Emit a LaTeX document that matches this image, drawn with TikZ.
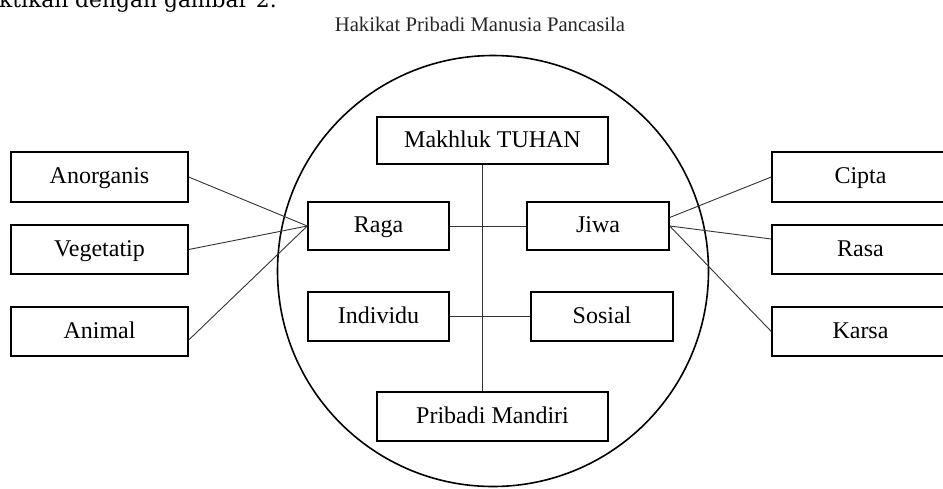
\documentclass[tikz,border=0pt]{standalone}
\usepackage{fontspec}
\setmainfont{Liberation Serif}
\newfontfamily\topfont{DejaVu Serif}
\begin{document}
\begin{tikzpicture}[x=1pt,y=-1pt,
  box/.style={draw=black, line width=1.4pt, inner sep=0pt, minimum height=48pt,
    text height=16.8pt, text depth=3.2pt, font=\fontsize{24}{28}\selectfont},
  sidebox/.style={box, minimum width=177pt, minimum height=49pt},
  midbox/.style={box, minimum width=141pt},
  widebox/.style={box, minimum width=231pt},
  conn/.style={draw=black!80, line width=0.9pt},
  ring/.style={draw=black, line width=1.6pt}
]
\path[use as bounding box, clip] (0,0) rectangle (943,488);
\fill[white] (0,0) rectangle (943,488);

% cut-off text line at the top
\node[anchor=base east, inner sep=0pt, font=\topfont\fontsize{21.8}{26}\selectfont] (toptext) at (277,7) {ktikan dengan gambar 2.};

% title
\node[anchor=base, inner sep=0pt, text=black!85, font=\fontsize{20.7}{24}\selectfont] (title) at (480,31) {Hakikat Pribadi Manusia Pancasila};

% circle
\node[ring, circle, minimum size=431pt, inner sep=0pt] (ring) at (493,271) {};

% left boxes
\node[sidebox, minimum height=50pt] (anorganis) at (99.5,177) {Anorganis};
\node[sidebox] (vegetatip) at (99.5,249.5) {Vegetatip};
\node[sidebox] (animal) at (99.5,331.5) {Animal};

% right boxes
\node[sidebox, minimum height=50pt] (cipta) at (860.5,177) {Cipta};
\node[sidebox] (rasa) at (860.5,249.5) {Rasa};
\node[sidebox] (karsa) at (860.5,331.5) {Karsa};

% inner boxes
\node[widebox, minimum height=47pt] (makhluk) at (492.5,140.5) {Makhluk TUHAN};
\node[midbox] (raga) at (378.5,226) {Raga};
\node[midbox, minimum width=142pt] (jiwa) at (598,226) {Jiwa};
\node[midbox, minimum height=49pt] (individu) at (378.5,316.5) {Individu};
\node[midbox, minimum width=142pt, minimum height=49pt] (sosial) at (602,316.5) {Sosial};
\node[widebox, minimum height=49pt] (pribadi) at (492.5,416.5) {Pribadi Mandiri};

% spine and cross lines
\draw[conn] ([xshift=-10.5pt]makhluk.south) -- ([xshift=-10.5pt]pribadi.north);
\draw[conn] (raga.east) -- (jiwa.west);
\draw[conn] (individu.east) -- (sosial.west);

% left connectors
\draw[conn] (anorganis.east) -- (raga.west);
\draw[conn] (vegetatip.east) -- (raga.west);
\draw[conn] ([yshift=-8.5pt]animal.east) -- (raga.west);

% right connectors
\draw[conn] ([yshift=8.5pt]jiwa.east) -- (cipta.west);
\draw[conn] (jiwa.east) -- ([yshift=10.5pt]rasa.west);
\draw[conn] (jiwa.east) -- (karsa.west);
\end{tikzpicture}
\end{document}
